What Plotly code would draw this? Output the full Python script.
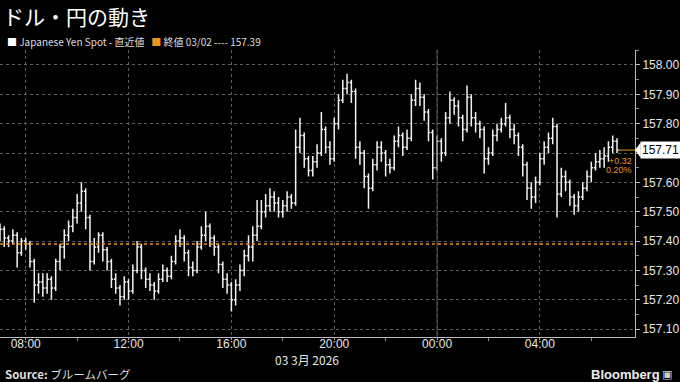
import pandas as pd
import plotly.graph_objects as go

# ---- data (10-minute bars, USD/JPY) ----
start_time = "2026-03-02 07:00"
bar_minutes = 10

opens = [157.45, 157.44, 157.41, 157.40, 157.42, 157.36, 157.40, 157.39, 157.33, 157.25,
         157.26, 157.24, 157.27, 157.24, 157.33, 157.38, 157.42, 157.45, 157.48, 157.53,
         157.57, 157.48, 157.33, 157.38, 157.42, 157.37, 157.33, 157.27, 157.24, 157.21,
         157.26, 157.23, 157.30, 157.38, 157.30, 157.27, 157.25, 157.23, 157.27, 157.30,
         157.28, 157.33, 157.40, 157.41, 157.36, 157.31, 157.30, 157.38, 157.42, 157.45,
         157.41, 157.38, 157.32, 157.27, 157.25, 157.20, 157.25, 157.30, 157.35, 157.38,
         157.42, 157.45, 157.50, 157.52, 157.55, 157.53, 157.50, 157.52, 157.55, 157.53,
         157.72, 157.76, 157.68, 157.64, 157.67, 157.70, 157.78, 157.72, 157.68, 157.80,
         157.88, 157.92, 157.94, 157.91, 157.72, 157.70, 157.62, 157.58, 157.66, 157.72,
         157.70, 157.66, 157.65, 157.74, 157.76, 157.72, 157.75, 157.88, 157.92, 157.89,
         157.84, 157.77, 157.65, 157.74, 157.70, 157.82, 157.88, 157.86, 157.82, 157.78,
         157.89, 157.82, 157.80, 157.78, 157.68, 157.70, 157.76, 157.78, 157.80, 157.82,
         157.78, 157.76, 157.72, 157.66, 157.58, 157.55, 157.60, 157.68, 157.72, 157.75,
         157.79, 157.56, 157.62, 157.60, 157.55, 157.52, 157.55, 157.58, 157.62, 157.65,
         157.67, 157.68, 157.69, 157.72, 157.74]

closes = [157.44, 157.41, 157.40, 157.42, 157.36, 157.40, 157.39, 157.33, 157.25, 157.26,
          157.24, 157.27, 157.24, 157.33, 157.38, 157.42, 157.45, 157.48, 157.53, 157.57,
          157.48, 157.33, 157.38, 157.42, 157.37, 157.33, 157.27, 157.24, 157.21, 157.26,
          157.23, 157.30, 157.38, 157.30, 157.27, 157.25, 157.23, 157.27, 157.30, 157.28,
          157.33, 157.40, 157.41, 157.36, 157.31, 157.30, 157.38, 157.42, 157.45, 157.41,
          157.38, 157.32, 157.27, 157.25, 157.20, 157.25, 157.30, 157.35, 157.38, 157.42,
          157.45, 157.50, 157.52, 157.55, 157.53, 157.50, 157.52, 157.55, 157.53, 157.72,
          157.76, 157.68, 157.64, 157.67, 157.70, 157.78, 157.72, 157.68, 157.80, 157.88,
          157.92, 157.94, 157.91, 157.72, 157.70, 157.62, 157.58, 157.66, 157.72, 157.70,
          157.66, 157.65, 157.74, 157.76, 157.72, 157.75, 157.88, 157.92, 157.89, 157.84,
          157.77, 157.65, 157.74, 157.70, 157.82, 157.88, 157.86, 157.82, 157.78, 157.89,
          157.82, 157.80, 157.78, 157.68, 157.70, 157.76, 157.78, 157.80, 157.82, 157.78,
          157.76, 157.72, 157.66, 157.58, 157.55, 157.60, 157.68, 157.72, 157.75, 157.79,
          157.56, 157.62, 157.60, 157.55, 157.52, 157.55, 157.58, 157.62, 157.65, 157.67,
          157.68, 157.69, 157.72, 157.74, 157.71]

highs = [157.46, 157.45, 157.42, 157.44, 157.43, 157.41, 157.41, 157.40, 157.34, 157.29,
         157.29, 157.29, 157.28, 157.34, 157.39, 157.44, 157.47, 157.51, 157.56, 157.60,
         157.58, 157.49, 157.41, 157.43, 157.43, 157.38, 157.34, 157.29, 157.25, 157.28,
         157.27, 157.32, 157.40, 157.39, 157.31, 157.29, 157.26, 157.29, 157.32, 157.31,
         157.35, 157.42, 157.44, 157.42, 157.37, 157.33, 157.40, 157.45, 157.50, 157.46,
         157.42, 157.39, 157.33, 157.29, 157.26, 157.27, 157.32, 157.37, 157.42, 157.45,
         157.54, 157.54, 157.56, 157.58, 157.57, 157.55, 157.54, 157.57, 157.56, 157.78,
         157.82, 157.77, 157.69, 157.69, 157.73, 157.84, 157.79, 157.74, 157.82, 157.90,
         157.95, 157.97, 157.95, 157.92, 157.74, 157.71, 157.63, 157.68, 157.74, 157.74,
         157.71, 157.68, 157.76, 157.79, 157.77, 157.78, 157.90, 157.95, 157.94, 157.90,
         157.85, 157.78, 157.76, 157.75, 157.84, 157.91, 157.89, 157.88, 157.83, 157.93,
         157.90, 157.84, 157.81, 157.79, 157.72, 157.78, 157.80, 157.82, 157.87, 157.83,
         157.80, 157.77, 157.73, 157.67, 157.60, 157.62, 157.70, 157.74, 157.77, 157.82,
         157.80, 157.65, 157.64, 157.61, 157.56, 157.57, 157.60, 157.64, 157.67, 157.70,
         157.71, 157.72, 157.74, 157.76, 157.75]

lows = [157.40, 157.38, 157.38, 157.39, 157.31, 157.35, 157.37, 157.31, 157.19, 157.22,
        157.21, 157.22, 157.20, 157.23, 157.30, 157.34, 157.40, 157.43, 157.46, 157.50,
        157.44, 157.30, 157.32, 157.36, 157.33, 157.30, 157.24, 157.22, 157.18, 157.20,
        157.20, 157.22, 157.29, 157.27, 157.24, 157.23, 157.20, 157.22, 157.26, 157.26,
        157.27, 157.32, 157.38, 157.33, 157.28, 157.28, 157.29, 157.37, 157.40, 157.38,
        157.35, 157.29, 157.24, 157.22, 157.16, 157.18, 157.23, 157.28, 157.33, 157.33,
        157.40, 157.44, 157.48, 157.50, 157.50, 157.48, 157.48, 157.50, 157.51, 157.52,
        157.70, 157.65, 157.62, 157.62, 157.65, 157.69, 157.70, 157.66, 157.67, 157.78,
        157.87, 157.90, 157.87, 157.68, 157.66, 157.58, 157.51, 157.57, 157.64, 157.67,
        157.62, 157.63, 157.64, 157.72, 157.69, 157.71, 157.74, 157.86, 157.86, 157.81,
        157.74, 157.61, 157.64, 157.67, 157.69, 157.80, 157.83, 157.79, 157.74, 157.77,
        157.79, 157.77, 157.75, 157.63, 157.66, 157.69, 157.74, 157.77, 157.79, 157.75,
        157.73, 157.69, 157.62, 157.54, 157.51, 157.53, 157.59, 157.66, 157.70, 157.73,
        157.48, 157.55, 157.57, 157.52, 157.49, 157.50, 157.54, 157.57, 157.60, 157.64,
        157.65, 157.65, 157.67, 157.70, 157.70]

prev_close = 157.39
prev_close_label = "03/02"
last_price = 157.71
change_abs = "+0.32"
change_pct = "0.20%"

y_ticks = [157.10, 157.20, 157.30, 157.40, 157.50, 157.60, 157.70, 157.80, 157.90, 158.00]
y_tick_text = ["157.10", "157.20", "157.30", "157.40", "157.50", "157.60", "", "157.80", "157.90", "158.00"]
y_range = [157.073, 158.051]
x_range = ["2026-03-02 07:00", "2026-03-03 07:42"]
midnight = "2026-03-03 00:00"
date_label = "03 3月 2026"

title_text = "ドル・円の動き"
series_name = "Japanese Yen Spot - 直近値"
source_text = "<b>Source:</b> ブルームバーグ"

times = pd.date_range(start_time, periods=len(closes), freq=f"{bar_minutes}min")

ORANGE = "#e8951e"
GRID = "#5c5c5c"
TXT = "#e6e6e6"
FONT = "Liberation Sans"
JFONT = "Noto Sans CJK JP"

fig = go.Figure()
fig.add_trace(go.Ohlc(
    x=times, open=opens, high=highs, low=lows, close=closes,
    increasing=dict(line=dict(color="#f2f2f2", width=1.5)),
    decreasing=dict(line=dict(color="#f2f2f2", width=1.5)),
    tickwidth=0.4, showlegend=False, hoverinfo="skip",
))

fig.update_layout(
    width=680, height=382,
    margin=dict(l=0, r=45, t=50, b=45),
    paper_bgcolor="black", plot_bgcolor="black",
    font=dict(family=FONT, color=TXT, size=12),
    showlegend=False,
    xaxis=dict(
        type="date", range=x_range, rangeslider=dict(visible=False),
        tick0="2026-03-02 08:00", dtick=4 * 3600 * 1000, tickformat="%H:%M",
        ticks="outside", ticklen=2, tickcolor="#aaaaaa", ticklabelstandoff=-6,
        showline=True, linecolor="#bbbbbb", linewidth=1,
        showgrid=True, gridcolor=GRID, griddash="dot", gridwidth=1,
        zeroline=False,
        tickfont=dict(family=FONT, size=12, color=TXT),
        minor=dict(dtick=2 * 3600 * 1000, tick0="2026-03-02 08:00",
                   ticks="outside", ticklen=3, tickcolor="#888888", showgrid=False),
    ),
    yaxis=dict(
        side="right", range=y_range, tickvals=y_ticks, ticktext=y_tick_text,
        ticks="outside", ticklen=4, tickcolor="#bbbbbb",
        showline=True, linecolor="#bbbbbb", linewidth=1,
        showgrid=True, gridcolor=GRID, griddash="dot", gridwidth=1,
        zeroline=False,
        tickfont=dict(family=FONT, size=12, color=TXT),
        minor=dict(dtick=0.05, tick0=157.05, ticks="outside", ticklen=3,
                   tickcolor="#888888", showgrid=False),
    ),
)

# previous close reference line
fig.add_hline(y=prev_close, line=dict(color=ORANGE, width=1.5, dash="dot"))
# midnight line
fig.add_shape(type="line", xref="x", yref="paper", x0=midnight, x1=midnight,
              y0=0, y1=1, line=dict(color="#555555", width=1))
# last price marker line
fig.add_shape(type="line", xref="x", yref="y", x0=times[-1], x1=x_range[1],
              y0=last_price, y1=last_price, line=dict(color=ORANGE, width=1))

# price tag
fig.add_shape(type="path", xref="paper", yref="y",
              path=f"M 1.0 {last_price} L 1.009 {last_price + 0.026} L 1.009 {last_price - 0.026} Z",
              fillcolor="white", line=dict(width=0))
fig.add_annotation(xref="paper", yref="y", x=1.008, y=last_price, xanchor="left",
                   yanchor="middle", text=f"{last_price:.2f}", showarrow=False,
                   bgcolor="white", font=dict(color="black", size=12, family=FONT),
                   borderpad=1, width=40, align="left")
fig.add_annotation(xref="paper", yref="y", x=0.998, y=last_price - 0.012, xanchor="right",
                   yanchor="top", text=change_abs, showarrow=False,
                   font=dict(color=ORANGE, size=9, family=FONT))
fig.add_annotation(xref="paper", yref="y", x=0.998, y=last_price - 0.045, xanchor="right",
                   yanchor="top", text=change_pct, showarrow=False,
                   font=dict(color=ORANGE, size=9, family=FONT))

# date label under axis
fig.add_annotation(xref="x", yref="paper", x=midnight, y=-0.08, xanchor="center",
                   yanchor="middle", text=date_label, showarrow=False,
                   xshift=-130, font=dict(size=12, color=TXT, family=JFONT))

# title & legend
fig.add_annotation(xref="paper", yref="paper", x=0.002, y=1.120, xanchor="left",
                   yanchor="middle", text=title_text, showarrow=False,
                   font=dict(size=21, color="white", family=JFONT))
legend_text = (f"<span style='color:#ffffff'>■</span> {series_name}   "
               f"<span style='color:{ORANGE}'>■</span> 終値 {prev_close_label} ---- {prev_close:.2f}")
fig.add_annotation(xref="paper", yref="paper", x=0.008, y=1.031, xanchor="left",
                   yanchor="middle", text=legend_text, showarrow=False,
                   font=dict(size=10, color="#dddddd", family=JFONT))

# footer
fig.add_annotation(xref="paper", yref="paper", x=0.005, y=-0.13, xanchor="left",
                   yanchor="middle", text=source_text, showarrow=False,
                   font=dict(size=11.5, color="#dddddd", family=JFONT))
fig.add_annotation(xref="paper", yref="paper", x=1.043, y=-0.13, xanchor="right",
                   yanchor="middle", text="<b>Bloomberg</b>", showarrow=False,
                   font=dict(size=13, color="#eeeeee", family=FONT))
fig.add_annotation(xref="paper", yref="paper", x=1.062, y=-0.13, xanchor="right",
                   yanchor="middle", text="▣", showarrow=False,
                   font=dict(size=11, color="#cccccc", family="DejaVu Sans"))

fig.write_html("out.html")
